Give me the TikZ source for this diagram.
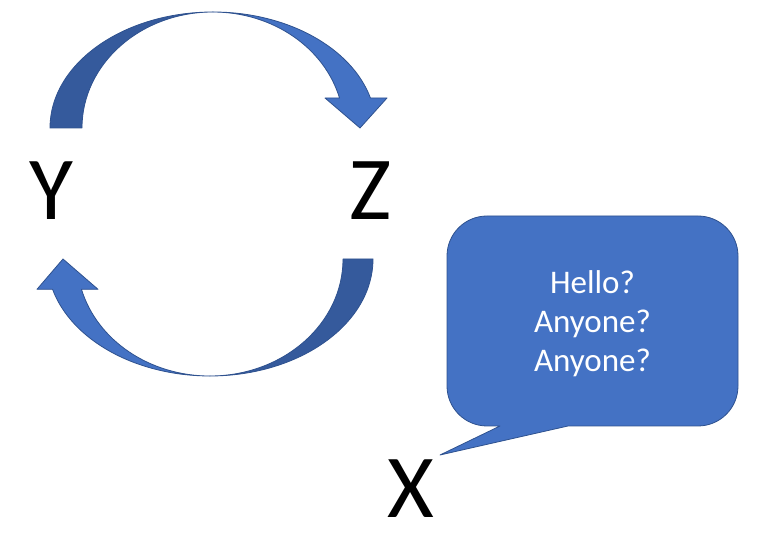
\documentclass[tikz,border=0pt]{standalone}
\usepackage{fontspec}
\setmainfont{Carlito}
\usetikzlibrary{positioning}

\definecolor{frontblue}{RGB}{68,114,196}
\definecolor{backblue}{RGB}{53,90,156}
\definecolor{edgeblue}{RGB}{47,82,143}

\tikzset{
  letter/.style={inner sep=0pt, anchor=base, font=\fontsize{90}{100}\selectfont},
  bandfront/.style={fill=frontblue, draw=edgeblue, line width=0.8pt, line join=round},
  bandback/.style={fill=backblue, draw=edgeblue, line width=0.8pt, line join=round},
  callout/.style={fill=frontblue, draw=edgeblue, line width=0.8pt, line join=round},
  msgtext/.style={inner sep=0pt, align=center, text=white, font=\fontsize{33}{39}\selectfont}
}

\begin{document}
\begin{tikzpicture}[x=1pt, y=1pt]
    \useasboundingbox (0,0) rectangle (757,553);

    \node[letter] (Y) at (51,333) {Y};
    \node[letter] (Z) at (371,333) {Z};
    \node[letter] (X) at (411,35) {X};

    % upper arrow, Y over to Z
    \coordinate (topc) at (213,425);
    \draw[bandback] ([xshift=-163pt]topc)
        arc[start angle=180, end angle=90, x radius=163pt, y radius=116pt]
        arc[start angle=90, end angle=180, x radius=131pt, y radius=116pt] -- cycle;
    \draw[bandfront] ([yshift=116pt]topc)
        arc[start angle=90, end angle=15, x radius=163pt, y radius=116pt]
        -- (387,455) -- (360,425) -- (325,455) -- (339.5,455)
        arc[start angle=15, end angle=90, x radius=131pt, y radius=116pt] -- cycle;

    % lower arrow, Z back to Y
    \coordinate (botc) at (210,294);
    \draw[bandback] ([xshift=163pt]botc)
        arc[start angle=0, end angle=-90, x radius=163pt, y radius=117pt]
        arc[start angle=-90, end angle=0, x radius=133pt, y radius=117pt] -- cycle;
    \draw[bandfront] ([yshift=-117pt]botc)
        arc[start angle=-90, end angle=-165, x radius=163pt, y radius=117pt]
        -- (37,263.7) -- (63,294) -- (98,263.7) -- (81.5,263.7)
        arc[start angle=-165, end angle=-90, x radius=133pt, y radius=117pt] -- cycle;

    % speech bubble from X
    \coordinate (tip) at (440,98);
    \draw[callout] (568,127) -- (698,127)
        arc[start angle=-90, end angle=0, radius=40pt] -- (738,297)
        arc[start angle=0, end angle=90, radius=40pt] -- (487,337)
        arc[start angle=90, end angle=180, radius=40pt] -- (447,167)
        arc[start angle=180, end angle=270, radius=40pt] -- (500,127)
        -- (tip) -- cycle;
    \node[msgtext] (msg) at (592.5,229) {Hello?\\Anyone?\\Anyone?};
\end{tikzpicture}
\end{document}
